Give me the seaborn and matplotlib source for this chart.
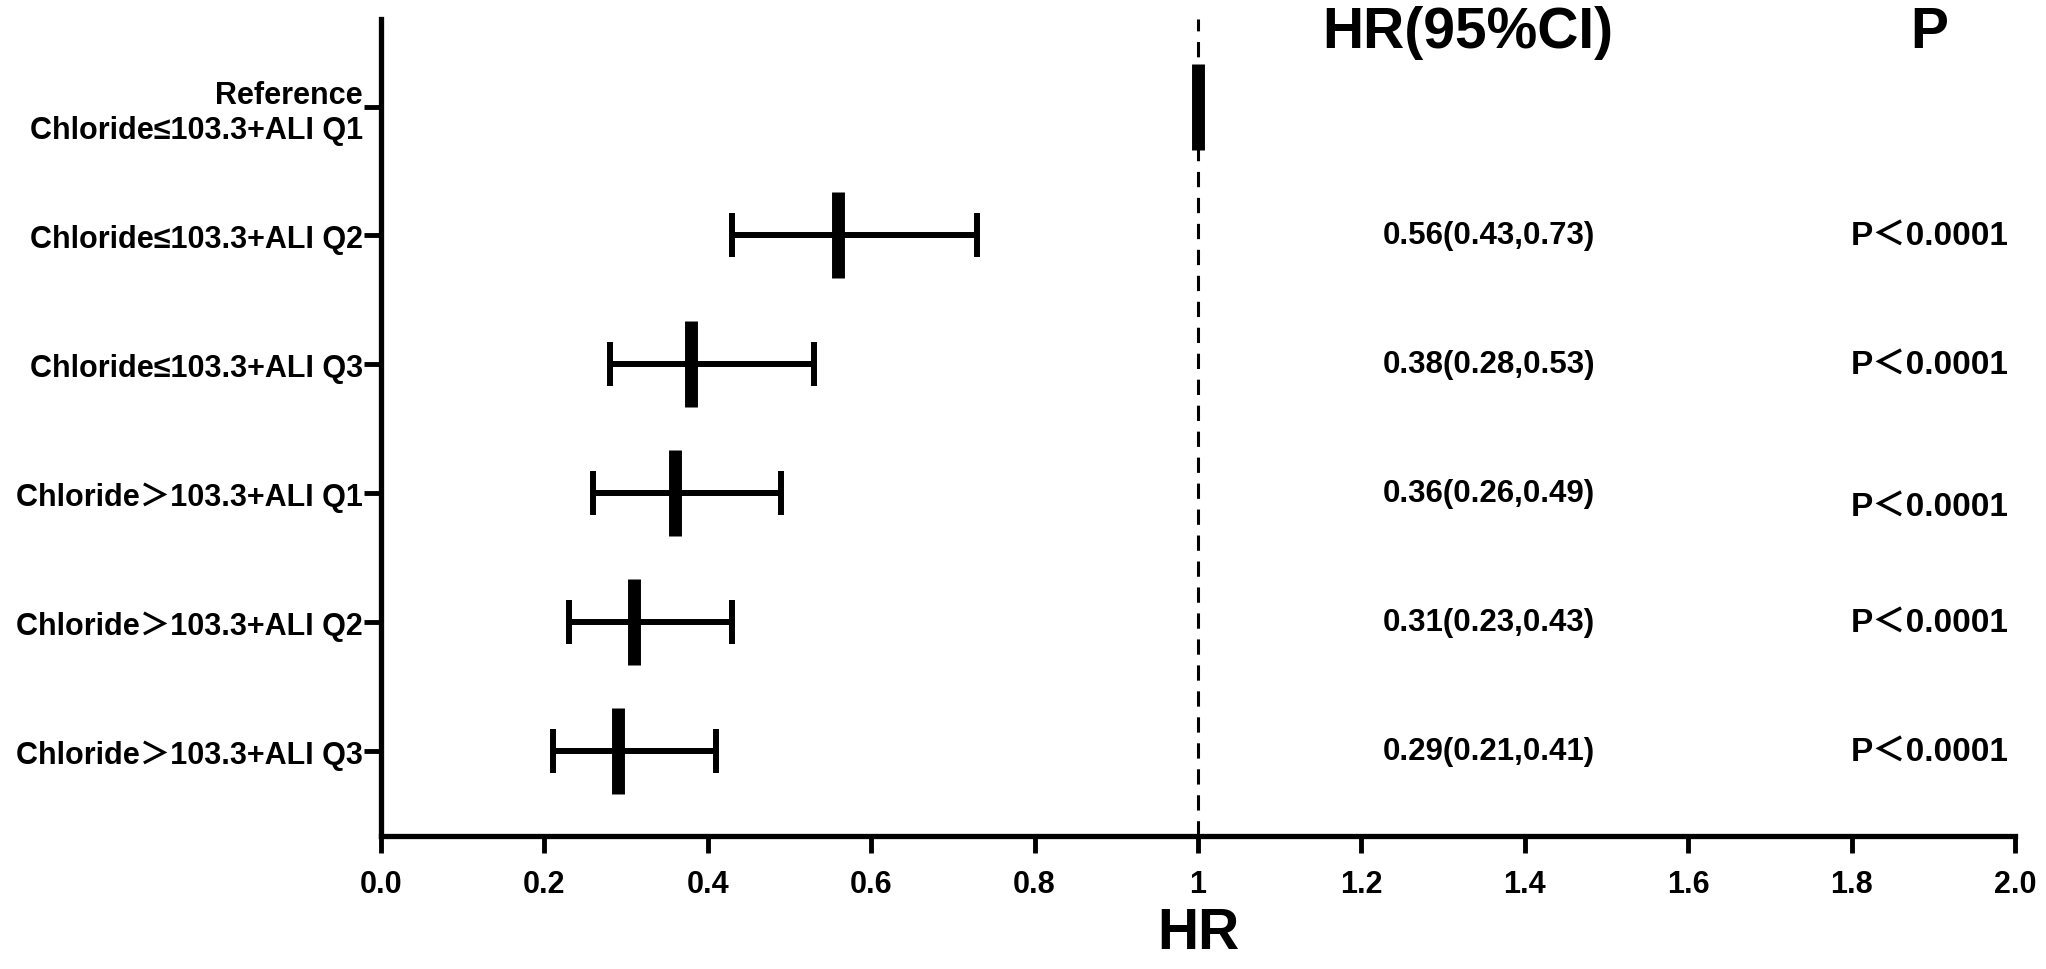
import matplotlib
matplotlib.use('Agg')
import matplotlib.pyplot as plt
import seaborn as sns
import pandas as pd

# forest plot data
groups = [
    'Reference\nChloride≤103.3+ALI Q1',
    'Chloride≤103.3+ALI Q2',
    'Chloride≤103.3+ALI Q3',
    'Chloride＞103.3+ALI Q1',
    'Chloride＞103.3+ALI Q2',
    'Chloride＞103.3+ALI Q3',
]
hr = [1.00, 0.56, 0.38, 0.36, 0.31, 0.29]
ci_low = [1.00, 0.43, 0.28, 0.26, 0.23, 0.21]
ci_high = [1.00, 0.73, 0.53, 0.49, 0.43, 0.41]
hr_text = ['', '0.56(0.43,0.73)', '0.38(0.28,0.53)', '0.36(0.26,0.49)',
           '0.31(0.23,0.43)', '0.29(0.21,0.41)']
p_text = ['', 'P＜0.0001', 'P＜0.0001', 'P＜0.0001', 'P＜0.0001', 'P＜0.0001']
x_ticks = [0.0, 0.2, 0.4, 0.6, 0.8, 1.0, 1.2, 1.4, 1.6, 1.8, 2.0]
x_ticklabels = ['0.0', '0.2', '0.4', '0.6', '0.8', '1', '1.2', '1.4', '1.6', '1.8', '2.0']

sns.set_style('ticks', {'axes.edgecolor': 'black', 'text.color': 'black',
                        'axes.labelcolor': 'black', 'xtick.color': 'black',
                        'ytick.color': 'black'})
plt.rcParams['font.family'] = ['Liberation Sans', 'Noto Sans CJK SC', 'DejaVu Sans']
plt.rcParams['font.weight'] = 'bold'

df = pd.DataFrame({'group': groups, 'hr': hr, 'low': ci_low, 'high': ci_high})
df['pos'] = range(len(df))

fig = plt.figure(figsize=(20.46, 9.7), dpi=100)
ax = fig.add_axes([0.1862, 0.1371, 0.7986, 0.8423])

# 기준선 HR = 1
ax.axvline(1.0, color='black', lw=2.2, ls=(0, (5, 3.5)), zorder=1)

# CI whiskers (reference row has no interval)
ci = df[df['high'] > df['low']]
ax.errorbar(ci['hr'], ci['pos'],
            xerr=[ci['hr'] - ci['low'], ci['high'] - ci['hr']],
            fmt='none', ecolor='black', elinewidth=4.3,
            capsize=16, capthick=4.3, zorder=2)

# point estimates drawn as thick vertical bars
sns.scatterplot(data=df, x='hr', y='pos', marker='|', s=62 ** 2,
                linewidth=9.3, color='black', ax=ax, zorder=3, legend=False)

# text columns
ax.text(1.33, -0.58, 'HR(95%CI)', ha='center', va='center', fontsize=41, fontweight='bold')
ax.text(1.895, -0.58, 'P', ha='center', va='center', fontsize=41, fontweight='bold')
for i in range(len(df)):
    if hr_text[i]:
        ax.text(1.356, i, hr_text[i], ha='center', va='center', fontsize=22.5, fontweight='bold')
    if p_text[i]:
        dy = 0.1 if i == 3 else 0.0
        ax.text(1.896, i + dy, p_text[i], ha='center', va='center', fontsize=24, fontweight='bold')

ax.set_xlim(0, 2.0)
ax.set_ylim(5.66, -0.68)
ax.set_xticks(x_ticks)
ax.set_xticklabels(x_ticklabels, fontsize=22, fontweight='bold')
ax.set_yticks(df['pos'])
ax.set_yticklabels(groups, fontsize=22, fontweight='bold', multialignment='right')
ax.set_xlabel('HR', fontsize=41, fontweight='bold', labelpad=5)
ax.set_ylabel('')

sns.despine(ax=ax)
for s in ['left', 'bottom']:
    ax.spines[s].set_linewidth(3.8)
ax.tick_params(axis='x', length=12, width=3.5, pad=12)
ax.tick_params(axis='y', length=12, width=3.5, pad=1)

fig.savefig('out.png', dpi=100)
